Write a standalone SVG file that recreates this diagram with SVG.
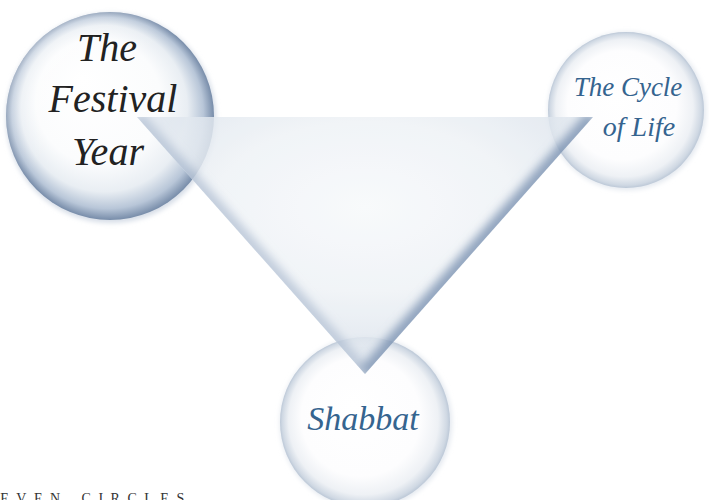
<svg xmlns="http://www.w3.org/2000/svg" width="709" height="500" viewBox="0 0 709 500">
<defs>
<radialGradient id="sphereDark" cx="0.5" cy="0.5" r="0.5" fx="0.36" fy="0.32">
<stop offset="0" stop-color="#ffffff"/>
<stop offset="0.6" stop-color="#fbfcfd"/>
<stop offset="0.8" stop-color="#e9eef3"/>
<stop offset="0.92" stop-color="#b8c6d8"/>
<stop offset="1" stop-color="#778ca9"/>
</radialGradient>
<linearGradient id="sheen" x1="0" y1="0" x2="1" y2="1">
<stop offset="0" stop-color="#ffffff" stop-opacity="0.55"/>
<stop offset="0.45" stop-color="#ffffff" stop-opacity="0"/>
</linearGradient>
<radialGradient id="sphereLight" cx="0.5" cy="0.5" r="0.5" fx="0.42" fy="0.4">
<stop offset="0" stop-color="#ffffff"/>
<stop offset="0.7" stop-color="#fdfdfe"/>
<stop offset="0.88" stop-color="#eef1f5"/>
<stop offset="0.97" stop-color="#cfd8e3"/>
<stop offset="1" stop-color="#bcc8d7"/>
</radialGradient>
<radialGradient id="triCenter" cx="0.5" cy="0.35" r="0.55">
<stop offset="0" stop-color="#f7f9fb"/>
<stop offset="0.6" stop-color="#eef2f6"/>
<stop offset="1" stop-color="#dfe6ee"/>
</radialGradient>
<clipPath id="triClip"><polygon points="137,117 593,117 365,374"/></clipPath>
<filter id="soft" x="-20%" y="-20%" width="140%" height="140%"><feGaussianBlur stdDeviation="5"/></filter>
<filter id="soft2" x="-20%" y="-20%" width="140%" height="140%"><feGaussianBlur stdDeviation="3"/></filter>
<filter id="halo" x="-20%" y="-20%" width="140%" height="140%"><feGaussianBlur stdDeviation="2.5"/></filter>
<style>
.script{font-family:"Liberation Serif","DejaVu Serif",serif;font-style:italic;text-anchor:middle}
.black{fill:#222222}
.blue{fill:#35648f}
.cap{font-family:"Liberation Serif","Times New Roman",serif;font-size:14px;letter-spacing:7.5px;word-spacing:3px;fill:#333333}
</style>
</defs>
<rect width="709" height="500" fill="#ffffff"/>

<g id="node-festival-year">
<circle cx="111" cy="118" r="105" fill="#d6dde7" filter="url(#halo)"/>
<circle cx="110" cy="116" r="104" fill="url(#sphereDark)"/>
<circle cx="110" cy="116" r="104" fill="url(#sheen)"/>
</g>
<g id="node-cycle-of-life">
<circle cx="627" cy="111" r="79" fill="#e3e8ef" filter="url(#halo)"/>
<circle cx="626" cy="110" r="78" fill="url(#sphereLight)"/>
</g>
<g id="node-shabbat">
<circle cx="366" cy="423" r="86" fill="#e3e8ef" filter="url(#halo)"/>
<circle cx="365" cy="422" r="85" fill="url(#sphereLight)"/>
</g>

<g id="connectors" opacity="0.82">
<polygon points="137,117 593,117 365,374" fill="url(#triCenter)"/>
<g clip-path="url(#triClip)">
<line x1="137" y1="117" x2="593" y2="117" stroke="#d2dae5" stroke-width="8" filter="url(#soft2)"/>
<line x1="137" y1="117" x2="365" y2="374" stroke="#b3c1d4" stroke-width="14" filter="url(#soft)"/>
<line x1="593" y1="117" x2="365" y2="374" stroke="#7890b0" stroke-width="16" filter="url(#soft)"/>
</g>
</g>

<g id="labels">
<text class="script black" x="107" y="61" font-size="40">The</text>
<text class="script black" x="113" y="112" font-size="40">Festival</text>
<text class="script black" x="108" y="165" font-size="40">Year</text>
<text class="script blue" x="628" y="96" font-size="27">The Cycle</text>
<text class="script blue" x="639" y="136" font-size="28">of Life</text>
<text class="script blue" x="363" y="430" font-size="34">Shabbat</text>
</g>
<text class="cap" x="-15" y="503">SEVEN CIRCLES</text>
</svg>
